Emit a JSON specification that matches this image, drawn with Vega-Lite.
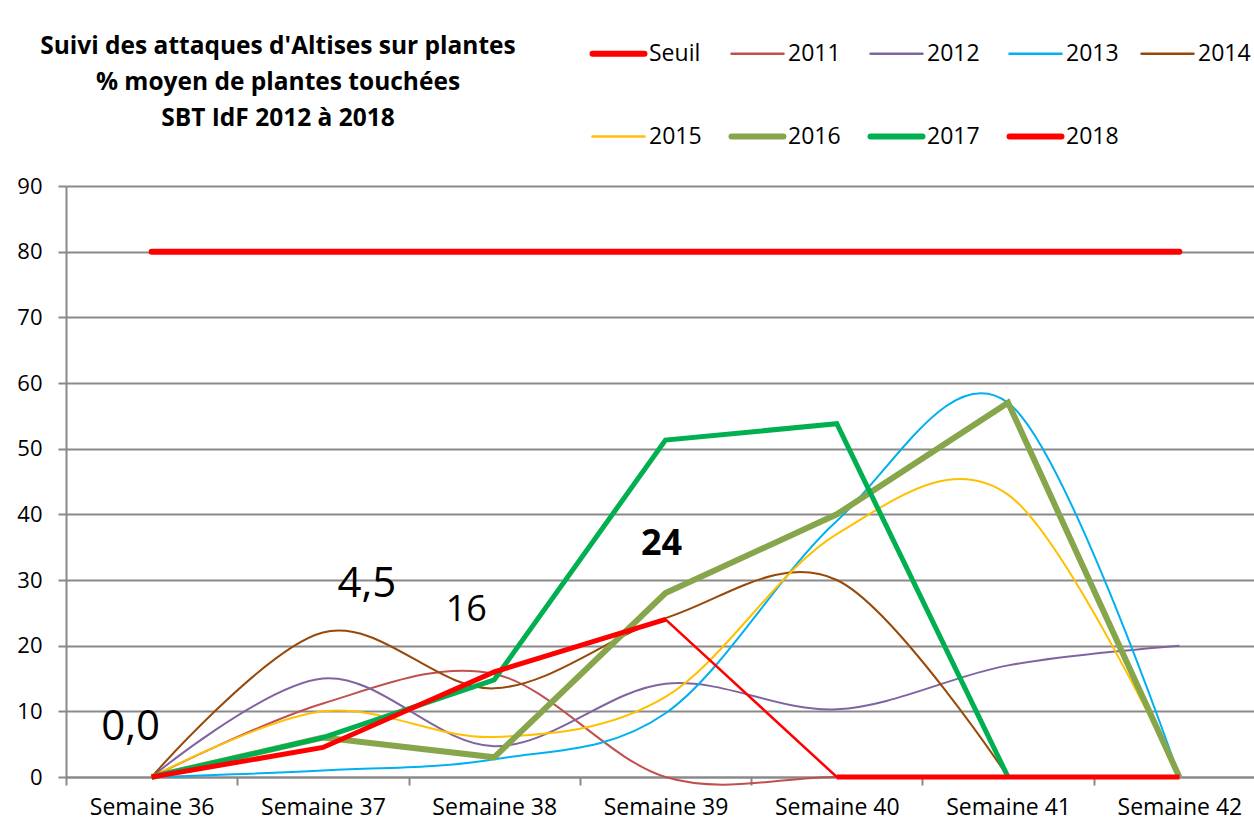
{
  "$schema": "https://vega.github.io/schema/vega-lite/v6.json",
  "width": 1188,
  "height": 591,
  "autosize": {"type": "none"},
  "padding": {"left": 66, "top": 186, "right": 0, "bottom": 50},
  "background": "white",
  "config": {
    "view": {"stroke": null},
    "font": "Open Sans",
    "locale": {"number": {"decimal": ",", "thousands": " ", "grouping": [3], "currency": ["", " €"]}}
  },
  "title": {
    "text": ["Suivi des attaques d'Altises sur plantes", "% moyen de plantes touchées", "SBT IdF 2012 à 2018"],
    "anchor": "start",
    "align": "center",
    "frame": "group",
    "dx": 212,
    "offset": -89,
    "font": "Open Sans",
    "fontSize": 24.5,
    "fontWeight": "bold",
    "color": "#000000",
    "lineHeight": 36
  },
  "data": {
    "values": [
      {"week": "Semaine 36", "series": "Seuil", "value": 80},
      {"week": "Semaine 37", "series": "Seuil", "value": 80},
      {"week": "Semaine 38", "series": "Seuil", "value": 80},
      {"week": "Semaine 39", "series": "Seuil", "value": 80},
      {"week": "Semaine 40", "series": "Seuil", "value": 80},
      {"week": "Semaine 41", "series": "Seuil", "value": 80},
      {"week": "Semaine 42", "series": "Seuil", "value": 80},
      {"week": "Semaine 36", "series": "2011", "value": 0},
      {"week": "Semaine 37", "series": "2011", "value": 11.2},
      {"week": "Semaine 38", "series": "2011", "value": 15.7},
      {"week": "Semaine 39", "series": "2011", "value": 0},
      {"week": "Semaine 40", "series": "2011", "value": 0},
      {"week": "Semaine 41", "series": "2011", "value": 0},
      {"week": "Semaine 42", "series": "2011", "value": 0},
      {"week": "Semaine 36", "series": "2012", "value": 0},
      {"week": "Semaine 37", "series": "2012", "value": 15},
      {"week": "Semaine 38", "series": "2012", "value": 4.7},
      {"week": "Semaine 39", "series": "2012", "value": 14.2},
      {"week": "Semaine 40", "series": "2012", "value": 10.3},
      {"week": "Semaine 41", "series": "2012", "value": 17},
      {"week": "Semaine 42", "series": "2012", "value": 20},
      {"week": "Semaine 36", "series": "2013", "value": 0},
      {"week": "Semaine 37", "series": "2013", "value": 1},
      {"week": "Semaine 38", "series": "2013", "value": 2.7},
      {"week": "Semaine 39", "series": "2013", "value": 9.7},
      {"week": "Semaine 40", "series": "2013", "value": 39},
      {"week": "Semaine 41", "series": "2013", "value": 57},
      {"week": "Semaine 42", "series": "2013", "value": 0},
      {"week": "Semaine 36", "series": "2014", "value": 0},
      {"week": "Semaine 37", "series": "2014", "value": 22},
      {"week": "Semaine 38", "series": "2014", "value": 13.5},
      {"week": "Semaine 39", "series": "2014", "value": 24.2},
      {"week": "Semaine 40", "series": "2014", "value": 30},
      {"week": "Semaine 41", "series": "2014", "value": 0},
      {"week": "Semaine 36", "series": "2015", "value": 0},
      {"week": "Semaine 37", "series": "2015", "value": 10},
      {"week": "Semaine 38", "series": "2015", "value": 6.1},
      {"week": "Semaine 39", "series": "2015", "value": 12.2},
      {"week": "Semaine 40", "series": "2015", "value": 37},
      {"week": "Semaine 41", "series": "2015", "value": 43},
      {"week": "Semaine 42", "series": "2015", "value": 0},
      {"week": "Semaine 36", "series": "2016", "value": 0},
      {"week": "Semaine 37", "series": "2016", "value": 6},
      {"week": "Semaine 38", "series": "2016", "value": 3},
      {"week": "Semaine 39", "series": "2016", "value": 28},
      {"week": "Semaine 40", "series": "2016", "value": 40},
      {"week": "Semaine 41", "series": "2016", "value": 57},
      {"week": "Semaine 42", "series": "2016", "value": 0},
      {"week": "Semaine 36", "series": "2017", "value": 0},
      {"week": "Semaine 37", "series": "2017", "value": 6},
      {"week": "Semaine 38", "series": "2017", "value": 14.8},
      {"week": "Semaine 39", "series": "2017", "value": 51.3},
      {"week": "Semaine 40", "series": "2017", "value": 53.8},
      {"week": "Semaine 41", "series": "2017", "value": 0},
      {"week": "Semaine 36", "series": "2018", "value": 0},
      {"week": "Semaine 37", "series": "2018", "value": 4.5},
      {"week": "Semaine 38", "series": "2018", "value": 16},
      {"week": "Semaine 39", "series": "2018", "value": 24},
      {"week": "Semaine 40", "series": "2018", "value": 0},
      {"week": "Semaine 41", "series": "2018", "value": 0},
      {"week": "Semaine 42", "series": "2018", "value": 0}
    ]
  },
  "encoding": {
    "x": {
      "field": "week",
      "type": "ordinal",
      "bandPosition": 0.5,
      "scale": {"type": "band", "range": [0, 1199], "paddingInner": 0, "paddingOuter": 0},
      "axis": {
        "title": null,
        "tickBand": "extent",
        "grid": false,
        "domainColor": "#898989",
        "domainWidth": 2,
        "tickColor": "#898989",
        "tickWidth": 2,
        "tickSize": 8,
        "labelFont": "Open Sans",
        "labelFontSize": 23,
        "labelColor": "#000000",
        "labelPadding": 11,
        "labelAngle": 0
      }
    },
    "y": {
      "field": "value",
      "type": "quantitative",
      "scale": {"domain": [0, 90], "nice": false},
      "axis": {
        "title": null,
        "values": [0, 10, 20, 30, 40, 50, 60, 70, 80, 90],
        "grid": true,
        "gridColor": "#898989",
        "gridWidth": 2,
        "domainColor": "#898989",
        "domainWidth": 2,
        "tickColor": "#898989",
        "tickWidth": 2,
        "tickSize": 8,
        "labelFont": "Open Sans",
        "labelFontSize": 22,
        "labelColor": "#000000",
        "labelPadding": 16
      }
    },
    "color": {
      "field": "series", "type": "nominal",
      "scale": {"domain": ["Seuil", "2011", "2012", "2013", "2014", "2015", "2016", "2017", "2018"],
                "range": ["#FF0000", "#C0504D", "#8064A2", "#00B0F0", "#984807", "#FFC000", "#87A54B", "#00B050", "#FF0000"]},
      "legend": {
        "orient": "none", "legendX": 541, "legendY": -144, "direction": "horizontal", "columns": 5,
        "title": null, "symbolType": "stroke", "symbolSize": 2700, "labelFont": "Open Sans", "labelFontSize": 23,
        "labelColor": "#000000", "labelOffset": 19, "columnPadding": 17, "rowPadding": 58, "padding": 0, "labelLimit": 200,
        "encode": {"symbols": {"update": {
          "strokeWidth": {"signal": "indexof(['Seuil','2016','2017','2018'], datum.label) >= 0 ? 6 : 2.5"},
          "strokeCap": {"value": "round"}
        }}}
      }
    }
  },
  "layer": [
    {
      "mark": {"type": "line", "interpolate": "cardinal", "tension": 0, "strokeWidth": 2},
      "transform": [{"filter": {"field": "series", "oneOf": ["2011", "2012", "2013", "2014", "2015"]}}]
    },
    {
      "mark": {"type": "line", "strokeCap": "round", "strokeWidth": 6},
      "transform": [{"filter": {"field": "series", "equal": "Seuil"}}]
    },
    {
      "mark": {"type": "line", "strokeWidth": 6},
      "transform": [{"filter": {"field": "series", "equal": "2016"}}]
    },
    {
      "mark": {"type": "line", "strokeWidth": 5},
      "transform": [{"filter": {"field": "series", "equal": "2017"}}]
    },
    {
      "mark": {"type": "line", "strokeWidth": 2.5},
      "transform": [{"filter": {"field": "series", "equal": "2018"}}]
    },
    {
      "mark": {"type": "line", "strokeWidth": 5},
      "transform": [
        {"filter": {"field": "series", "equal": "2018"}},
        {"filter": {"field": "week", "oneOf": ["Semaine 36", "Semaine 37", "Semaine 38", "Semaine 39"]}}
      ]
    },
    {
      "mark": {"type": "line", "strokeWidth": 5},
      "transform": [
        {"filter": {"field": "series", "equal": "2018"}},
        {"filter": {"field": "week", "oneOf": ["Semaine 40", "Semaine 41", "Semaine 42"]}}
      ]
    },
    {
      "mark": {"type": "text", "font": "Open Sans", "fontSize": 42, "color": "#000000", "dx": -21, "dy": -50},
      "transform": [{"filter": "datum.series === '2018' && datum.week === 'Semaine 36'"}],
      "encoding": {"text": {"field": "value", "type": "quantitative", "format": ".1f"}, "color": {"value": "#000000"}}
    },
    {
      "mark": {"type": "text", "font": "Open Sans", "fontSize": 42, "color": "#000000", "dx": 44, "dy": -163},
      "transform": [{"filter": "datum.series === '2018' && datum.week === 'Semaine 37'"}],
      "encoding": {"text": {"field": "value", "type": "quantitative", "format": ".1f"}, "color": {"value": "#000000"}}
    },
    {
      "mark": {"type": "text", "font": "Open Sans", "fontSize": 36, "color": "#000000", "dx": -28, "dy": -62},
      "transform": [{"filter": "datum.series === '2018' && datum.week === 'Semaine 38'"}],
      "encoding": {"text": {"field": "value", "type": "quantitative", "format": ".0f"}, "color": {"value": "#000000"}}
    },
    {
      "mark": {"type": "text", "font": "Open Sans", "fontSize": 36, "fontWeight": "bold", "color": "#000000", "dx": -4, "dy": -75},
      "transform": [{"filter": "datum.series === '2018' && datum.week === 'Semaine 39'"}],
      "encoding": {"text": {"field": "value", "type": "quantitative", "format": ".0f"}, "color": {"value": "#000000"}}
    }
  ]
}
